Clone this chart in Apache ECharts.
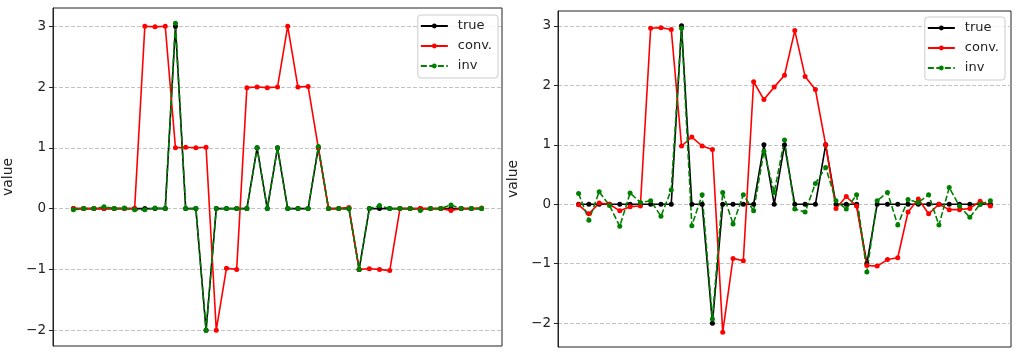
<!DOCTYPE html>
<html>
<head>
<meta charset="utf-8">
<script src="https://cdn.jsdelivr.net/npm/echarts@6/dist/echarts.min.js"></script>
<style>
html,body{margin:0;padding:0;background:#fff;}
#chart{width:1022px;height:362px;}
</style>
</head>
<body>
<div id="chart"></div>
<script>
// ---- data ----
const xIndex = Array.from({length: 41}, (_, i) => i);
const seriesNames = ['true', 'conv.', 'inv'];
const yTicks = [-2, -1, 0, 1, 2, 3];

const trueVals = [0,0,0,0,0,0,0,0,0,0,3,0,0,-2,0,0,0,0,1,0,1,0,0,0,1,0,0,0,-1,0,0,0,0,0,0,0,0,0,0,0,0];

const leftConv = [0,0,0,0,0,0,0,3,2.99,3,1,1.01,1,1.01,-2,-0.98,-1,1.99,2,1.99,2,3,2,2.01,1,0,0,0.02,-1,-0.99,-1,-1.02,0,0,0,0,0,-0.03,0,0,0.01];
const leftInv = [-0.02,0,0,0.03,0,0.01,-0.02,-0.02,0.01,0,3.05,0,0,-2,0,0,0,0,1,0,1,0,0,0,1.02,0,0,0,-1,0,0.05,0,0,0,-0.03,0,0,0.06,0,0,0];

const rightConv = [-0.01,-0.16,0.02,0,-0.11,-0.04,-0.03,2.96,2.97,2.94,0.98,1.13,0.98,0.92,-2.15,-0.91,-0.95,2.06,1.76,1.97,2.17,2.92,2.15,1.93,1.0,-0.07,0.13,-0.03,-1.03,-1.04,-0.93,-0.9,-0.13,0.09,-0.16,0,-0.09,-0.09,-0.07,0.05,-0.03];
const rightInv = [0.18,-0.27,0.21,-0.02,-0.37,0.19,0.03,0.06,-0.2,0.24,2.96,-0.36,0.16,-1.93,0.2,-0.33,0.16,-0.11,0.89,0.2,1.08,-0.08,-0.13,0.35,0.62,0.06,-0.08,0.16,-1.14,0.06,0.2,-0.35,0.08,0.03,0.16,-0.35,0.28,-0.03,-0.22,0.0,0.06];

// ---- chart ----
const FONT = 'DejaVu Sans';
const pair = (ys) => ys.map((v, i) => [xIndex[i], v]);
const fmt = (v) => (v < 0 ? '\u2212' + Math.abs(v) : String(v));

function xAxisFor(gi) {
  return {
    type: 'value', gridIndex: gi, min: -2, max: 42,
    axisLine: {show: false}, axisTick: {show: false}, axisLabel: {show: false},
    splitLine: {show: false}
  };
}
function yAxisFor(gi, mn, mx) {
  return {
    type: 'value', gridIndex: gi, min: mn, max: mx,
    name: 'value', nameLocation: 'middle', nameGap: 38, nameRotate: 90,
    nameTextStyle: {fontFamily: FONT, fontSize: 14, color: '#222'},
    axisLine: {show: true, onZero: false, lineStyle: {color: '#222', width: 1}},
    axisTick: {show: true, length: 4, lineStyle: {color: '#222', width: 1}, customValues: yTicks},
    axisLabel: {fontFamily: FONT, fontSize: 13.5, color: '#222', margin: 7, formatter: fmt, customValues: yTicks},
    splitLine: {show: true, lineStyle: {color: '#b4b4b4', width: 0.8, type: [4, 2]}}
  };
}
function lineSeries(name, gi, data, color, dashed) {
  return {
    name: name, type: 'line', xAxisIndex: gi, yAxisIndex: gi,
    data: pair(data), symbol: 'circle', symbolSize: 5, showSymbol: true,
    itemStyle: {color: color}, animation: false,
    lineStyle: {color: color, width: 1.6, type: dashed ? [6, 2.5] : 'solid'},
    z: 3
  };
}
function legendFor(right, top) {
  return {
    data: seriesNames, orient: 'vertical', right: right, top: top,
    itemWidth: 27, itemHeight: 6, itemGap: 4,
    padding: [3, 6, 4, 2],
    borderColor: '#cccccc', borderWidth: 1, borderRadius: 3,
    backgroundColor: 'rgba(255,255,255,0.8)',
    textStyle: {fontFamily: FONT, fontSize: 13, color: '#222', padding: [0, 0, 0, 5], lineHeight: 16}
  };
}

const chart = echarts.init(document.getElementById('chart'), null, {renderer: 'canvas'});
chart.setOption({
  animation: false,
  backgroundColor: '#fff',
  grid: [
    {left: 52, top: 8, width: 450, height: 338, show: true, borderColor: '#222', borderWidth: 1, backgroundColor: 'transparent'},
    {left: 558, top: 11, width: 453, height: 336, show: true, borderColor: '#222', borderWidth: 1, backgroundColor: 'transparent'}
  ],
  xAxis: [xAxisFor(0), xAxisFor(1)],
  yAxis: [yAxisFor(0, -2.26, 3.30), yAxisFor(1, -2.40, 3.25)],
  legend: [legendFor(524, 15), legendFor(17, 17)],
  series: [
    lineSeries('true', 0, trueVals, '#000000', false),
    lineSeries('conv.', 0, leftConv, '#ff0000', false),
    lineSeries('inv', 0, leftInv, '#008000', true),
    lineSeries('true', 1, trueVals, '#000000', false),
    lineSeries('conv.', 1, rightConv, '#ff0000', false),
    lineSeries('inv', 1, rightInv, '#008000', true)
  ]
});
</script>
</body>
</html>
